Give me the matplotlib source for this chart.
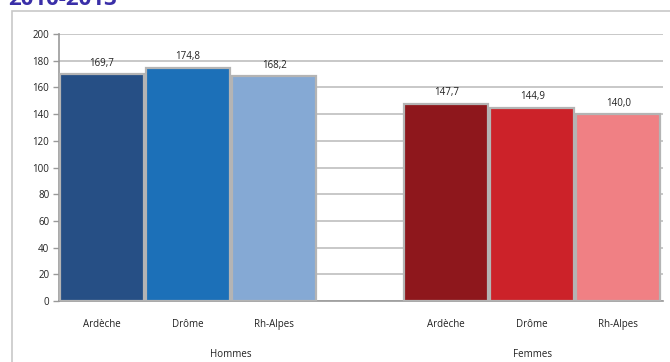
import matplotlib
matplotlib.use("Agg")
import matplotlib.pyplot as plt
from matplotlib.patches import Rectangle

plt.rcParams['font.family'] = ['Open Sans', 'DejaVu Sans']

title = "2010-2013"
groups = ["Hommes", "Femmes"]
categories = ["Ardèche", "Drôme", "Rh-Alpes"]
hommes = [169.7, 174.8, 168.2]
femmes = [147.7, 144.9, 140.0]
hommes_colors = ["#264f85", "#1c70b8", "#85a9d4"]
femmes_colors = ["#8e171c", "#cc2229", "#f08084"]
yticks = [0, 20, 40, 60, 80, 100, 120, 140, 160, 180, 200]

W, H = 670, 362
fig = plt.figure(figsize=(W / 100, H / 100), dpi=100)
fig.patch.set_facecolor("white")

# outer frame
fig.add_artist(Rectangle((12 / W, -0.1), 1.2, 1 - 11 / H + 0.1, transform=fig.transFigure,
                         fill=False, edgecolor="#c8c8c8", linewidth=1.2))
fig.text(8 / W, 1 - 5 / H, title, color="#3a2fa8", fontsize=16, fontweight="bold",
         va="baseline", ha="left")

ax = fig.add_axes([59 / W, 1 - 301 / H, (663 - 59) / W, (301 - 34) / H])
ax.set_facecolor("white")

h_pos = [0, 1, 2]
f_pos = [4, 5, 6]
bw = 0.975
ax.bar(h_pos, hommes, width=bw, color=hommes_colors, edgecolor="#b4b4b4", linewidth=1.6, zorder=3)
ax.bar(f_pos, femmes, width=bw, color=femmes_colors, edgecolor="#b4b4b4", linewidth=1.6, zorder=3)

for x, v in zip(h_pos + f_pos, hommes + femmes):
    ax.text(x, v + 4, f"{v:.1f}".replace(".", ","), ha="center", va="bottom", fontsize=7, color="#222222")

ax.set_xlim(-0.5, 6.52)
ax.set_ylim(0, 200)
ax.set_yticks(yticks)
ax.set_yticklabels([str(t) for t in yticks], fontsize=7, color="#222222")
ax.yaxis.grid(True, color="#c4c4c4", linestyle="-", linewidth=1.3, zorder=0)
ax.set_axisbelow(True)

ax.set_xticks(h_pos + f_pos)
ax.set_xticklabels(categories + categories, fontsize=7, color="#222222")
ax.tick_params(axis="x", length=0, pad=13)
ax.tick_params(axis="y", length=4, color="#999999", width=1, pad=3)

for s in ["top", "right"]:
    ax.spines[s].set_visible(False)
ax.spines["left"].set_color("#999999")
ax.spines["bottom"].set_color("#999999")
ax.spines["left"].set_linewidth(1.2)
ax.spines["bottom"].set_linewidth(1.2)

ax.text(1.5, -0.18, groups[0], transform=ax.get_xaxis_transform(), ha="center", va="top",
        fontsize=7, color="#222222")
ax.text(5.0, -0.18, groups[1], transform=ax.get_xaxis_transform(), ha="center", va="top",
        fontsize=7, color="#222222")

fig.savefig("out.png", dpi=100, facecolor="white")
